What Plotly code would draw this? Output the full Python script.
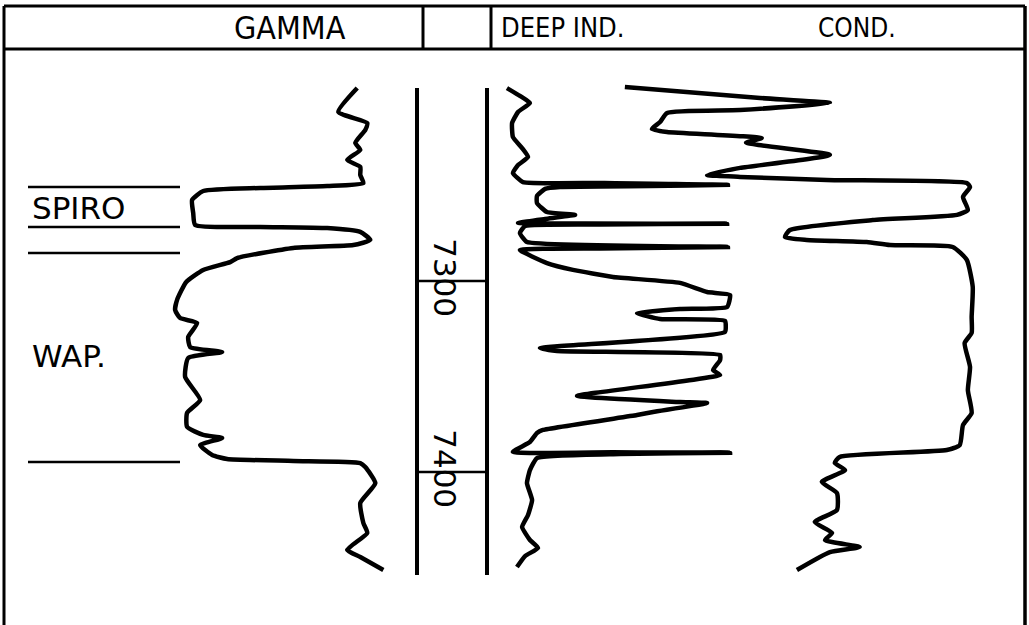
import plotly.graph_objects as go

# ---------------- data ----------------
# Gamma ray curve (API units) vs depth (ft)
GAMMA_DEPTH = [7199.0, 7211.5, 7217.3, 7220.9, 7227.7, 7231.4, 7236.6, 7240.3, 7244.5, 7248.7,
               7250.3, 7251.3, 7252.9, 7257.6, 7264.4, 7270.7, 7271.7, 7272.3, 7274.3, 7278.5,
               7281.2, 7282.7, 7288.0, 7290.1, 7294.2, 7300.5, 7309.9, 7315.2, 7319.4, 7322.0,
               7329.3, 7334.6, 7337.2, 7340.3, 7350.3, 7362.3, 7369.1, 7376.4, 7380.6, 7382.2,
               7385.9, 7391.1, 7393.2, 7394.2, 7395.3, 7397.4, 7405.8, 7416.2, 7426.7, 7431.9,
               7440.8, 7444.5, 7451.3]
GAMMA_API = [128.5, 121.7, 132.1, 131.4, 127.8, 129.6, 124.9, 129.6, 129.6, 130.7,
             117.7, 93.6, 73.1, 69.1, 69.5, 70.2, 93.6, 117.7, 129.6, 133.2,
             127.1, 105.5, 85.3, 82.8, 73.1, 67.0, 63.7, 63.0, 64.8, 70.9,
             67.7, 68.4, 79.9, 67.7, 66.6, 72.0, 67.3, 67.3, 73.1, 79.9,
             72.0, 76.3, 81.7, 105.5, 129.6, 131.4, 135.0, 129.6, 130.7, 132.1,
             124.9, 129.6, 137.9]

# Deep induction resistivity (ohm-m) vs depth
DEEP_DEPTH = [7199.0, 7203.1, 7206.8, 7211.5, 7217.3, 7224.6, 7230.4, 7235.1, 7239.3, 7243.5,
              7248.2, 7248.7, 7249.7, 7250.3, 7250.8, 7251.8, 7255.5, 7259.2, 7263.9, 7265.4,
              7267.5, 7269.6, 7270.0, 7270.4, 7271.2, 7274.9, 7279.6, 7282.2, 7283.0, 7283.8,
              7290.6, 7294.2, 7297.9, 7301.0, 7305.8, 7307.3, 7313.6, 7314.7, 7316.8, 7319.9,
              7320.9, 7326.7, 7335.1, 7336.6, 7338.7, 7341.4, 7346.6, 7349.2, 7360.2, 7363.4,
              7363.9, 7368.6, 7370.2, 7378.0, 7379.6, 7384.3, 7389.5, 7389.7, 7389.9, 7390.6,
              7392.7, 7399.0, 7405.8, 7414.7, 7422.5, 7428.8, 7435.6, 7439.8, 7444.0, 7449.7]
DEEP_OHMM = [0.70, 1.18, 1.55, 1.11, 0.89, 0.92, 1.26, 1.48, 1.11, 0.92,
             1.29, 4.14, 8.87, 5.99, 2.66, 2.11, 1.81, 1.81, 2.18, 3.22,
             2.11, 1.11, 8.84, 4.14, 1.37, 1.18, 1.44, 8.87, 4.14, 1.18,
             2.18, 3.14, 4.62, 7.10, 8.10, 8.95, 8.84, 7.10, 5.51, 6.36,
             8.76, 8.76, 1.92, 2.55, 8.58, 8.58, 8.32, 8.58, 3.29, 7.10,
             8.10, 6.10, 5.51, 2.03, 1.81, 1.55, 0.92, 4.62, 8.95, 4.88,
             1.81, 1.55, 1.44, 1.63, 1.48, 1.26, 1.55, 1.85, 1.37, 1.07]

# Conductivity (mmho/m) vs depth
COND_DEPTH = [7198.4, 7204.2, 7206.8, 7210.5, 7212.0, 7216.8, 7220.4, 7222.0, 7225.2, 7227.6,
              7234.0, 7240.8, 7244.5, 7245.5, 7247.1, 7248.7, 7250.8, 7256.0, 7262.8, 7265.4,
              7268.1, 7273.3, 7277.0, 7278.5, 7279.6, 7281.2, 7282.2, 7289.0, 7303.1, 7318.8,
              7327.2, 7332.5, 7345.0, 7357.1, 7369.1, 7375.4, 7385.9, 7388.5, 7392.1, 7395.3,
              7399.0, 7405.2, 7411.0, 7419.9, 7426.2, 7431.9, 7435.6, 7439.3, 7441.9, 7451.3]
COND_MMHO = [747, 497, 368, 534, 669, 682, 697, 669, 494, 523,
             368, 534, 595, 534, 374, 115, 109, 122, 113, 133,
             289, 442, 451, 411, 300, 257, 141, 115, 104, 106,
             106, 119, 109, 113, 106, 122, 128, 152, 350, 359,
             340, 383, 355, 355, 396, 364, 377, 313, 368, 429]

TRACK_TITLES = ["GAMMA", "DEEP IND.", "COND."]
TRACK_TITLE_SIZES = [32, 27, 26]
DEPTH_TICKS = [7300, 7400]
DEPTH_TICK_LABELS = ["7300", "7400"]
FORMATION_TOPS = [7250.8, 7271.7, 7285.3, 7394.8]
FORMATION_NAMES = ["SPIRO", "WAP."]
FORMATION_LABEL_DEPTHS = [7261.8, 7339.3]
LOG_TOP, LOG_BOTTOM = 7199.0, 7453.9

# ---------------- layout helpers ----------------
W, H = 1029, 625
def px(x):
    return x / W
def py(y):
    return 1 - y / H

INK = "black"
LW = 4.5
FONT = "DejaVu Sans Condensed, Liberation Sans Narrow, DejaVu Sans, sans-serif"

fig = go.Figure()
fig.add_trace(go.Scatter(x=GAMMA_API, y=GAMMA_DEPTH, mode="lines", xaxis="x", yaxis="y",
                         line=dict(color=INK, width=LW, shape="spline", smoothing=0.5),
                         name="GAMMA", hoverinfo="skip"))
fig.add_trace(go.Scatter(x=DEEP_OHMM, y=DEEP_DEPTH, mode="lines", xaxis="x2", yaxis="y",
                         line=dict(color=INK, width=LW, shape="spline", smoothing=0.4),
                         name="DEEP IND.", hoverinfo="skip"))
fig.add_trace(go.Scatter(x=COND_MMHO, y=COND_DEPTH, mode="lines", xaxis="x3", yaxis="y",
                         line=dict(color=INK, width=LW, shape="spline", smoothing=0.5),
                         name="COND.", hoverinfo="skip"))

shapes = []
# outer border + header
shapes.append(dict(type="line", xref="paper", yref="paper", x0=px(4), x1=px(1025), y0=py(6), y1=py(6),
                   line=dict(color=INK, width=3)))
shapes.append(dict(type="line", xref="paper", yref="paper", x0=px(4), x1=px(1025), y0=py(49), y1=py(49),
                   line=dict(color=INK, width=3)))
shapes.append(dict(type="line", xref="paper", yref="paper", x0=px(4), x1=px(4), y0=py(6), y1=0,
                   line=dict(color=INK, width=3)))
shapes.append(dict(type="line", xref="paper", yref="paper", x0=px(1025), x1=px(1025), y0=py(6), y1=0,
                   line=dict(color=INK, width=3.5)))
for xd in (423, 491):
    shapes.append(dict(type="line", xref="paper", yref="paper", x0=px(xd), x1=px(xd), y0=py(6), y1=py(49),
                       line=dict(color=INK, width=3)))
# depth track
for xd in (417, 487):
    shapes.append(dict(type="line", xref="paper", yref="y", x0=px(xd), x1=px(xd), y0=LOG_TOP, y1=LOG_BOTTOM,
                       line=dict(color=INK, width=4)))
for d in DEPTH_TICKS:
    shapes.append(dict(type="line", xref="paper", yref="y", x0=px(417), x1=px(487), y0=d, y1=d,
                       line=dict(color=INK, width=2.5)))
# formation tops
for d in FORMATION_TOPS:
    shapes.append(dict(type="line", xref="paper", yref="y", x0=px(28), x1=px(180), y0=d, y1=d,
                       line=dict(color=INK, width=2.5)))

annotations = []
header_x = [290, 563, 857]
for t, xc, fs in zip(TRACK_TITLES, header_x, TRACK_TITLE_SIZES):
    annotations.append(dict(text=t, xref="paper", yref="paper", x=px(xc), y=py(28), showarrow=False,
                            xanchor="center", yanchor="middle",
                            font=dict(family=FONT, size=fs, color=INK)))
for lab, d in zip(DEPTH_TICK_LABELS, DEPTH_TICKS):
    annotations.append(dict(text=lab, xref="paper", yref="y", x=px(445), y=d - 2, showarrow=False,
                            textangle=90, xanchor="center", yanchor="middle",
                            font=dict(family="DejaVu Sans, sans-serif", size=31, color=INK)))
for name, d in zip(FORMATION_NAMES, FORMATION_LABEL_DEPTHS):
    annotations.append(dict(text=name, xref="paper", yref="y", x=px(30), y=d, showarrow=False,
                            xanchor="left", yanchor="middle",
                            font=dict(family="DejaVu Sans, sans-serif", size=31, color=INK)))

hidden = dict(visible=False, showgrid=False, zeroline=False, fixedrange=True)
fig.update_layout(
    width=W, height=H,
    margin=dict(l=0, r=0, t=0, b=0),
    paper_bgcolor="white", plot_bgcolor="white",
    showlegend=False,
    xaxis=dict(domain=[0, 417 / W], range=[0, 150], **hidden),
    xaxis2=dict(domain=[488 / W, 1], range=[0, 20], anchor="y", **hidden),
    xaxis3=dict(overlaying="x2", range=[1000, 0], anchor="y", **hidden),
    yaxis=dict(domain=[0, 1], range=[7480.1, 7152.9], **hidden),
    shapes=shapes,
    annotations=annotations,
)

fig.write_html("out.html", config={"displayModeBar": False},
               post_script="document.body.style.margin='0';document.body.style.overflow='hidden';")
